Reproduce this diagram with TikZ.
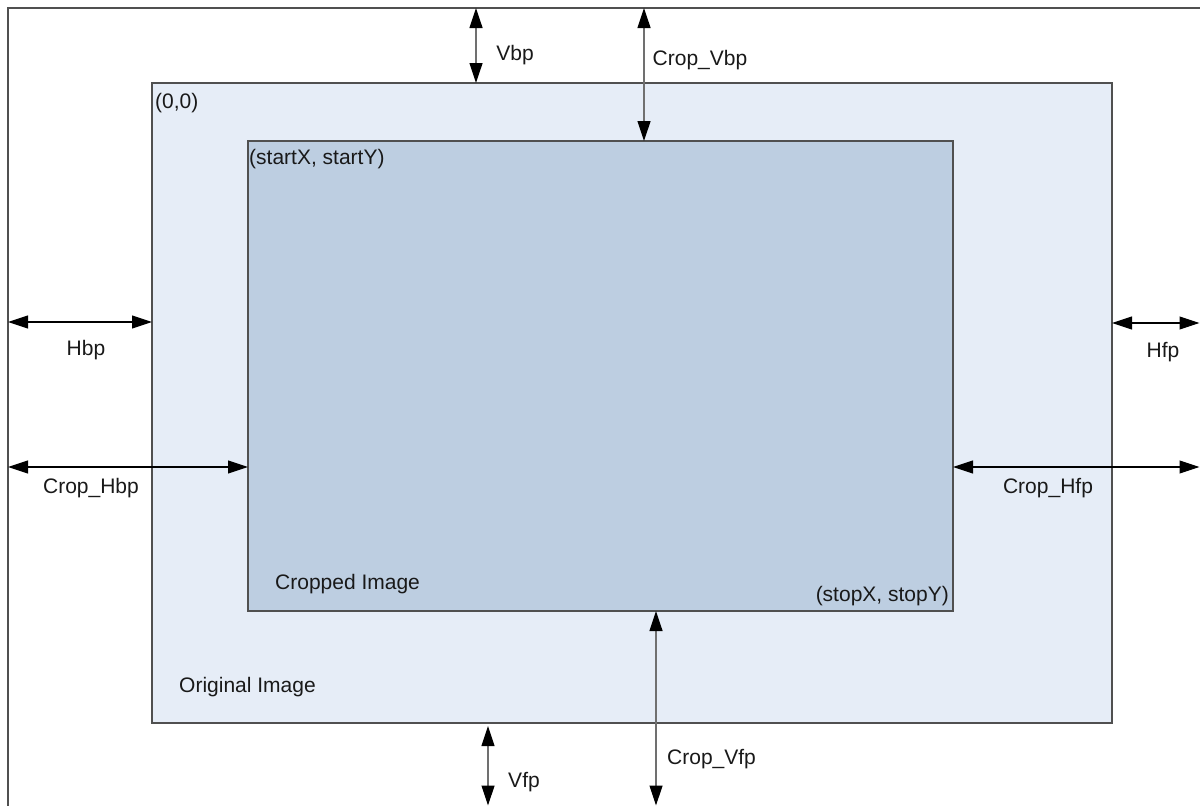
\documentclass[tikz,border=0pt]{standalone}
\usepackage{fontspec}
\setmainfont{Liberation Sans}
\usetikzlibrary{arrows.meta}
\definecolor{origfill}{HTML}{E6EDF7}
\definecolor{cropfill}{HTML}{BDCEE1}
\definecolor{edgegray}{HTML}{505050}
\definecolor{shaftgray}{HTML}{707070}
\begin{document}
\begin{tikzpicture}[x=1pt,y=-1pt,
  framebox/.style={draw=edgegray,line width=1.4pt},
  origbox/.style={draw=edgegray,fill=origfill,line width=1.3pt,inner sep=0pt,outer sep=0pt,anchor=north west},
  cropbox/.style={draw=edgegray,fill=cropfill,line width=1.2pt,inner sep=0pt,outer sep=0pt,anchor=north west},
  dimv/.style={draw=shaftgray,line width=1.2pt,{Triangle[length=20pt,width=13pt,black]}-{Triangle[length=20pt,width=13pt,black]}},
  dimh/.style={draw=black,line width=1.1pt,{Triangle[length=20pt,width=13pt,black]}-{Triangle[length=20pt,width=13pt,black]}},
  lbl/.style={inner sep=0pt,font=\fontsize{21}{25}\selectfont,text=black!90}
]
\useasboundingbox (0,0) rectangle (1200,806);
\fill[white] (0,0) rectangle (1200,806);
\begin{scope}
\clip (0,0) rectangle (1200,806);
\draw[framebox] (8,8) rectangle (1230,830);
\end{scope}
\node[origbox,minimum width=960pt,minimum height=640pt] (orig) at (152,83) {};
\node[cropbox,minimum width=705pt,minimum height=470pt] (crop) at (248,141) {};
% coordinates on the frame / picture edges
\coordinate (vbpT) at (476,8);
\coordinate (cvbpT) at (644,8);
\coordinate (hbpL) at (8,322);
\coordinate (chbpL) at (8,467);
\coordinate (hfpR) at (1199.5,323);
\coordinate (chfpR) at (1199.5,467);
\coordinate (vfpT) at (488,726);
\coordinate (vfpB) at (488,805.5);
\coordinate (cvfpB) at (656,805.5);
% dimension arrows
\draw[dimv] (vbpT) -- (vbpT |- orig.north);
\draw[dimv] (cvbpT) -- (cvbpT |- crop.north);
\draw[dimh] (hbpL) -- (orig.west |- hbpL);
\draw[dimh] (chbpL) -- (crop.west |- chbpL);
\draw[dimh] (orig.east |- hfpR) -- (hfpR);
\draw[dimh] (crop.east |- chfpR) -- (chfpR);
\draw[dimv] (vfpT) -- (vfpB);
\draw[dimv] (cvfpB |- crop.south) -- (cvfpB);
% labels
\node[lbl] (tvbp) at (515,55) {Vbp};
\node[lbl] (tcvbp) at (700,60) {Crop\_Vbp};
\node[lbl] (thbp) at (86,350) {Hbp};
\node[lbl] (tchbp) at (91,488) {Crop\_Hbp};
\node[lbl] (thfp) at (1163,352) {Hfp};
\node[lbl] (tchfp) at (1048,488) {Crop\_Hfp};
\node[lbl] (tvfp) at (524,782) {Vfp};
\node[lbl,anchor=west] (tcvfp) at (667,759) {Crop\_Vfp};
\node[lbl,anchor=west] (t00) at (155,103) {(0,0)};
\node[lbl,anchor=west] (tstart) at (249,159) {(startX, startY)};
\node[lbl,anchor=east] (tstop) at (949,596) {(stopX, stopY)};
\node[lbl,anchor=west] (tcrop) at (275,584) {Cropped Image};
\node[lbl,anchor=west] (torig) at (179,687) {Original Image};
\end{tikzpicture}
\end{document}
